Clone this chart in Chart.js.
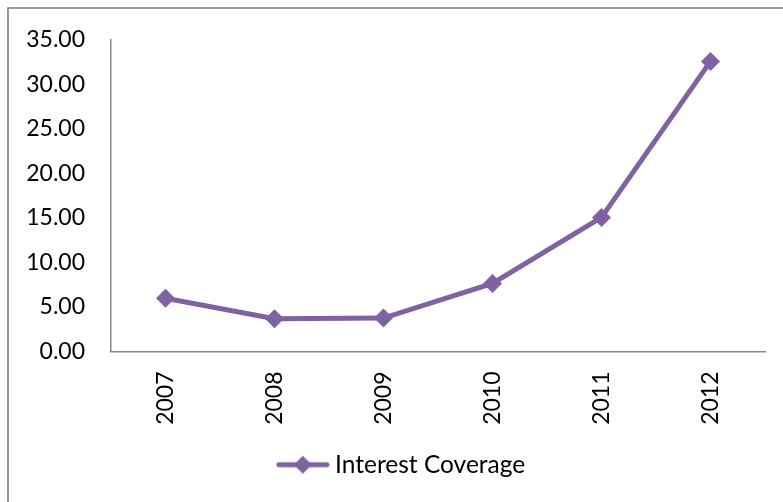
<!DOCTYPE html>
<html>
<head>
<meta charset="utf-8">
<script src="https://cdn.jsdelivr.net/npm/chart.js@4/dist/chart.umd.min.js"></script>
<style>
  html, body { margin: 0; padding: 0; background: #fff; }
  #wrap { width: 783px; height: 502px; position: relative; }
</style>
</head>
<body>
<div id="wrap"><canvas id="c" width="783" height="502"></canvas></div>
<script>
const years = ['2007', '2008', '2009', '2010', '2011', '2012'];
const interestCoverage = [5.98, 3.67, 3.75, 7.64, 15.06, 32.57];
const seriesName = 'Interest Coverage';

const PURPLE = '#7F62A1';
const AXIS = '#888888';
const FONT = 'Lato, "Open Sans", sans-serif';

// Legend swatch: a short line with a diamond in the middle
function legendSwatch() {
  const cv = document.createElement('canvas');
  cv.width = 54; cv.height = 20;
  const g = cv.getContext('2d');
  g.strokeStyle = PURPLE; g.lineWidth = 5; g.lineCap = 'round';
  g.beginPath(); g.moveTo(3, 10); g.lineTo(51, 10); g.stroke();
  g.fillStyle = PURPLE;
  g.beginPath();
  g.moveTo(27, 1); g.lineTo(36, 10); g.lineTo(27, 19); g.lineTo(18, 10);
  g.closePath(); g.fill();
  return cv;
}

// Outer frame of the chart object; the legend is centred inside this frame
const framePlugin = {
  id: 'frame',
  afterLayout(chart) {
    if (chart.legend) chart.legend.left += 43;
  },
  beforeDraw(chart) {
    const ctx = chart.ctx;
    ctx.save();
    ctx.strokeStyle = '#8a8a8a';
    ctx.lineWidth = 1.75;
    ctx.strokeRect(8, 8, 900, 700);
    ctx.restore();
  }
};

new Chart(document.getElementById('c'), {
  type: 'line',
  data: {
    labels: years,
    datasets: [{
      label: seriesName,
      data: interestCoverage,
      borderColor: PURPLE,
      backgroundColor: PURPLE,
      borderWidth: 5,
      pointStyle: 'rectRot',
      pointRadius: 9.5,
      pointHoverRadius: 9.5,
      pointBorderWidth: 0,
      tension: 0,
      fill: false
    }]
  },
  options: {
    responsive: false,
    animation: false,
    events: [],
    layout: { padding: { top: 38, right: 18, bottom: 15, left: 0 } },
    scales: {
      x: {
        offset: true,
        grid: { display: false, drawTicks: false },
        border: { display: true, color: AXIS, width: 1.5 },
        ticks: {
          color: '#000',
          font: { family: FONT, size: 23 },
          minRotation: 90,
          maxRotation: 90,
          padding: 20
        },
        afterFit(scale) { scale.height = 91; }
      },
      y: {
        min: 0,
        max: 35,
        grid: { display: false, drawTicks: false },
        border: { display: true, color: AXIS, width: 1.5 },
        ticks: {
          stepSize: 5,
          color: '#000',
          font: { family: FONT, size: 23 },
          padding: 26,
          callback: v => Number(v).toFixed(2)
        },
        afterFit(scale) { scale.width = 111; }
      }
    },
    plugins: {
      tooltip: { enabled: false },
      legend: {
        position: 'bottom',
        labels: {
          color: '#000',
          font: { family: FONT, size: 24.5 },
          usePointStyle: true,
          pointStyleWidth: 40,
          boxWidth: 40,
          padding: 10,
          generateLabels(chart) {
            return [{
              text: seriesName,
              pointStyle: legendSwatch(),
              fillStyle: PURPLE,
              strokeStyle: PURPLE,
              lineWidth: 0,
              hidden: false,
              datasetIndex: 0
            }];
          }
        }
      }
    }
  },
  plugins: [framePlugin]
});
</script>
</body>
</html>
